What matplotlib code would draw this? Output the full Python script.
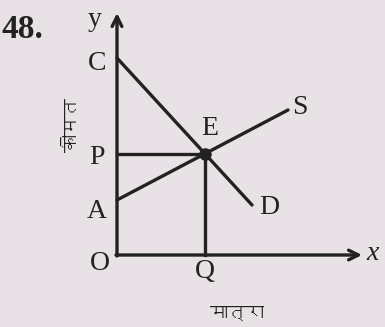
import numpy as np
import matplotlib
matplotlib.use("Agg")
import matplotlib.pyplot as plt
from matplotlib import font_manager
from matplotlib.ft2font import FT2Font

# point positions (chart units, origin O)
axis_end = [24.5, 24.2]          # x tip, y tip
price_C = 19.7                   # demand intercept
price_A = 5.5                    # supply intercept
eq_Q, eq_P = 8.8, 10.1           # equilibrium E
demand_x = [0, 13.5]
demand_y = [19.7, 5.0]
supply_x = [0, 17.1]
supply_y = [5.5, 14.5]

point_names = ["C", "P", "A", "O", "Q", "E", "S", "D"]
y_title = "कीमत"
x_title = "मात्रा"
question_no = "48."

# look for a font that has devanagari
deva = []
for f in font_manager.fontManager.ttflist:
    try:
        if 0x092E in FT2Font(f.fname).get_charmap():
            deva.append(f.name)
    except Exception:
        pass
deva = list(dict.fromkeys(deva))
hindi_font = deva + ["DejaVu Sans"]

bg = "#e8e2e6"
ink = "#222222"
lw = 2.4

fig = plt.figure(figsize=(3.85, 3.27), dpi=100, facecolor=bg)
# 1 unit = 10 px, origin at pixel (117, 255)
ax = fig.add_axes([0, 0, 1, 1])
ax.set_facecolor(bg)
ax.set_xlim(-11.7, 26.8)
ax.set_ylim(-7.2, 25.5)
ax.axis("off")

# axes with open arrow heads
arrow = dict(arrowstyle="->,head_length=0.7,head_width=0.35", color=ink, lw=lw,
             shrinkA=0, shrinkB=0)
ax.annotate("", xy=(axis_end[0], 0), xytext=(-0.1, 0), arrowprops=arrow)
ax.annotate("", xy=(0, axis_end[1]), xytext=(0, -0.1), arrowprops=arrow)

# curves
ax.plot(demand_x, demand_y, color=ink, lw=lw, solid_capstyle="round")
ax.plot(supply_x, supply_y, color=ink, lw=lw, solid_capstyle="round")
ax.plot([0, eq_Q], [eq_P, eq_P], color=ink, lw=lw)
ax.plot([eq_Q, eq_Q], [0, eq_P], color=ink, lw=lw)
ax.plot([eq_Q], [eq_P], "o", color=ink, ms=8)

serif = "Liberation Serif"
fs = 20
lab_pos = [(-2.0, price_C - 0.5), (-2.0, eq_P - 0.3), (-2.0, price_A - 1.2),
           (-1.7, -0.9), (eq_Q, -1.7), (eq_Q + 0.5, eq_P + 2.6),
           (supply_x[1] + 1.2, supply_y[1] + 0.3), (demand_x[1] + 1.7, demand_y[1] - 0.3)]
for name, (px, py) in zip(point_names, lab_pos):
    ax.text(px, py, name, family=serif, fontsize=fs, color=ink, ha="center", va="center")

ax.text(-2.2, axis_end[1] - 0.6, "y", family=serif, fontsize=fs, color=ink, ha="center", va="center")
ax.text(axis_end[0] + 1.1, 0.1, "x", family=serif, style="italic", fontsize=fs, color=ink,
        ha="center", va="center")
ax.text(-9.5, 22.6, question_no, family=serif, weight="bold", fontsize=24, color=ink,
        ha="center", va="center")

ax.text(-4.5, 13.0, y_title, family=hindi_font, fontsize=13, weight="bold", rotation=90,
        color=ink, ha="center", va="center")
ax.text(12.0, -5.8, x_title, family=hindi_font, fontsize=13, weight="bold", color=ink,
        ha="center", va="center")

fig.savefig("out.png", dpi=100, facecolor=bg)
